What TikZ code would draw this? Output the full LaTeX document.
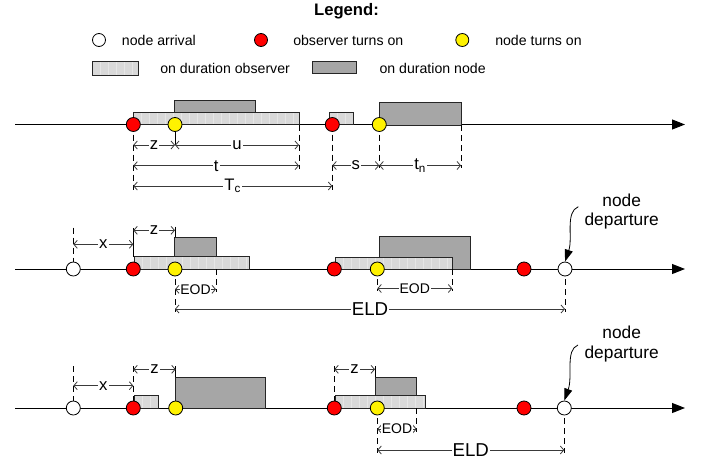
\documentclass[tikz,border=0pt]{standalone}
\usepackage{fontspec}
\setmainfont{Liberation Sans}
\usetikzlibrary{arrows.meta}

\definecolor{obsgray}{HTML}{D9D9D9}
\definecolor{nodegray}{HTML}{A6A6A6}
\definecolor{dimgray}{HTML}{3A3A3A}

\tikzset{
  ev/.style={circle, draw=black, line width=0.6pt, minimum size=10.5pt, inner sep=0pt},
  arrival/.style={ev, fill=white},
  obson/.style={ev, fill=red},
  nodeon/.style={ev, fill=yellow},
  legev/.style={minimum size=9.75pt},
  obsbar/.style={draw=black!85, line width=0.6pt, fill=obsgray,
    path picture={\foreach \k in {1,...,40}{
      \draw[white, opacity=0.35, line width=0.5pt]
        ([xshift=\k*6pt]path picture bounding box.south west) --
        ([xshift=\k*6pt]path picture bounding box.north west);}}},
  nodebar/.style={draw=black!85, line width=0.6pt, fill=nodegray},
  axis/.style={line width=0.75pt, -{Triangle[length=9.75pt,width=7.5pt]}},
  dimline/.style={draw=dimgray, line width=0.6pt,
    {Straight Barb[length=2.6pt,width=6pt]}-{Straight Barb[length=2.6pt,width=6pt]}},
  dimlabel/.style={fill=white, inner sep=0.8pt, text=black, font=\fontsize{12.5}{13}\selectfont},
  eodlabel/.style={dimlabel, inner sep=0.5pt, font=\fontsize{10.5}{11}\selectfont},
  eldlabel/.style={dimlabel, font=\fontsize{14}{15}\selectfont},
  guide/.style={draw=black, line width=0.6pt, dash pattern=on 4.5pt off 3pt},
  tick/.style={draw=black, line width=0.6pt},
  legtext/.style={anchor=west, inner sep=0pt, font=\fontsize{10.6}{12}\selectfont},
  deptext/.style={align=center, inner sep=0pt, font=\fontsize{13}{14.5}\selectfont},
  pointer/.style={line width=0.6pt, -{Triangle[length=9pt,width=6pt]}},
}

\begin{document}
\begin{tikzpicture}[x=0.75pt, y=-0.75pt]
  \useasboundingbox (0,0) rectangle (707,464);

  % ---------- legend ----------
  \node[font=\bfseries\fontsize{12.5}{14}\selectfont] (legend) at (346.5,11) {Legend:};
  \node[arrival, legev] (legarr) at (99,40) {};
  \node[legtext] (legarrtxt) at (121.7,40) {node arrival};
  \node[obson, legev] (legobs) at (261,40) {};
  \node[legtext] (legobstxt) at (293,40) {observer turns on};
  \node[nodeon, legev] (legnode) at (462.3,40) {};
  \node[legtext] (legnodetxt) at (495,40) {node turns on};
  \draw[obsbar] (92.7,61.7) rectangle (138.3,75);
  \node[legtext] (legobsbar) at (160,68) {on duration observer};
  \draw[nodebar] (312.7,61.2) rectangle (356.7,73.5);
  \node[legtext] (legnodebar) at (379.3,68) {on duration node};

  % ---------- timeline 1 ----------
  \coordinate (a1s) at (15,124.5);
  \coordinate (a1e) at (685,124.5);
  \draw[axis] (a1s) -- (a1e);
  \draw[obsbar] (133.5,112.5) rectangle (299,124.5);
  \draw[nodebar] (174.5,100.5) rectangle (255.5,112.5);
  \draw[obsbar] (329.5,112.5) rectangle (353.5,124.5);
  \draw[nodebar] (379.5,102) rectangle (461,125);

  \draw[guide] (133.3,124.5) -- (133.3,190);
  \draw[tick]  (175,124.5) -- (175,145);
  \draw[guide] (299,124.5) -- (299,168.5);
  \draw[guide] (332.3,124.5) -- (332.3,190);
  \draw[guide] (379.3,124.5) -- (379.3,168);
  \draw[guide] (461,125) -- (461,168);

  \node[obson]  (o1a) at (133.3,124.5) {};
  \node[nodeon] (n1a) at (175,124.5) {};
  \node[obson]  (o1b) at (332.3,124.5) {};
  \node[nodeon] (n1b) at (379.3,124.5) {};

  \draw[dimline] (133.3,145) -- node[dimlabel] {z} (175,145);
  \draw[dimline] (175,145) -- node[dimlabel] {u} (299,145);
  \draw[dimline] (133.3,165.7) -- node[dimlabel] {t} (299,165.7);
  \draw[dimline] (332.3,165.5) -- node[dimlabel] {s} (379.3,165.5);
  \draw[dimline] (379.3,165.5) -- node[dimlabel] {t\textsubscript{n}} (461,165.5);
  \draw[dimline] (133.3,186) -- node[dimlabel] {T\textsubscript{c}} (332.3,186);

  % ---------- timeline 2 ----------
  \coordinate (a2s) at (15,269);
  \coordinate (a2e) at (685,269);
  \draw[axis] (a2s) -- (a2e);
  \draw[obsbar] (134.3,256.7) rectangle (249.3,269);
  \draw[nodebar] (174.5,237) rectangle (216,256.7);
  \draw[nodebar] (379.3,236) rectangle (470.7,269);
  \draw[obsbar] (335.7,257.3) rectangle (452.3,269);

  \draw[guide] (73.3,227.5) -- (73.3,269);
  \draw[tick]  (133.3,228) -- (133.3,257);
  \draw[tick]  (175,226.5) -- (175,237);
  \draw[guide] (175,269) -- (175,312);
  \draw[guide] (216,269) -- (216,292);
  \draw[guide] (377.3,269) -- (377.3,291);
  \draw[guide] (452.3,269) -- (452.3,291);
  \draw[guide] (565,269) -- (565,312);

  \node[arrival] (d2a) at (73.3,269) {};
  \node[obson]   (o2a) at (133.3,269) {};
  \node[nodeon]  (n2a) at (175,269) {};
  \node[obson]   (o2b) at (334.3,269) {};
  \node[nodeon]  (n2b) at (377.3,269) {};
  \node[obson]   (o2c) at (524,269) {};
  \node[arrival] (d2b) at (565,269) {};

  \draw[dimline] (73.3,244.3) -- node[dimlabel] {x} (133.3,244.3);
  \draw[dimline] (133.3,230.3) -- node[dimlabel] {z} (175,230.3);
  \draw[dimline] (175,289.3) -- node[eodlabel] {EOD} (216,289.3);
  \draw[dimline] (377.3,288.5) -- node[eodlabel] {EOD} (452.3,288.5);
  \draw[dimline] (175,309) -- node[eldlabel] {ELD} (565,309);

  \node[deptext] (dep2) at (621.7,211.7) {node\\departure};
  \coordinate (p2) at (578.3,206.7);
  \draw[pointer] (p2) .. controls (565,212) and (573,238) .. (d2b.north);

  % ---------- timeline 3 ----------
  \coordinate (a3s) at (15,408);
  \coordinate (a3e) at (685,408);
  \draw[axis] (a3s) -- (a3e);
  \draw[obsbar] (134.3,395.7) rectangle (158.3,408);
  \draw[nodebar] (175.5,377.3) rectangle (265,408);
  \draw[obsbar] (335,395.7) rectangle (425.3,408);
  \draw[nodebar] (375,377.3) rectangle (416.7,395.7);

  \draw[guide] (73.3,366) -- (73.3,408);
  \draw[guide] (133.3,366) -- (133.3,402);
  \draw[tick]  (175.5,366) -- (175.5,377.3);
  \draw[guide] (334.3,366) -- (334.3,402);
  \draw[tick]  (375,366) -- (375,377.3);
  \draw[guide] (377.3,408) -- (377.3,453);
  \draw[guide] (416.7,408) -- (416.7,432);
  \draw[guide] (564.3,408) -- (564.3,453);

  \node[arrival] (d3a) at (73.3,408) {};
  \node[obson]   (o3a) at (133.3,408) {};
  \node[nodeon]  (n3a) at (175.7,408) {};
  \node[obson]   (o3b) at (334.3,408) {};
  \node[nodeon]  (n3b) at (377.3,408) {};
  \node[obson]   (o3c) at (524,408) {};
  \node[arrival] (d3b) at (564.3,408) {};

  \draw[dimline] (73.3,385.7) -- node[dimlabel] {x} (133.3,385.7);
  \draw[dimline] (133.3,369.3) -- node[dimlabel] {z} (175.7,369.3);
  \draw[dimline] (334.3,369.3) -- node[dimlabel] {z} (375,369.3);
  \draw[dimline] (377.3,429) -- node[eodlabel] {EOD} (416.7,429);
  \draw[dimline] (377.3,450) -- node[eldlabel] {ELD} (564.3,450);

  \node[deptext] (dep3) at (621.7,344) {node\\departure};
  \coordinate (p3) at (578,345);
  \draw[pointer] (p3) .. controls (565,350) and (573,376) .. (d3b.north);
\end{tikzpicture}
\end{document}
